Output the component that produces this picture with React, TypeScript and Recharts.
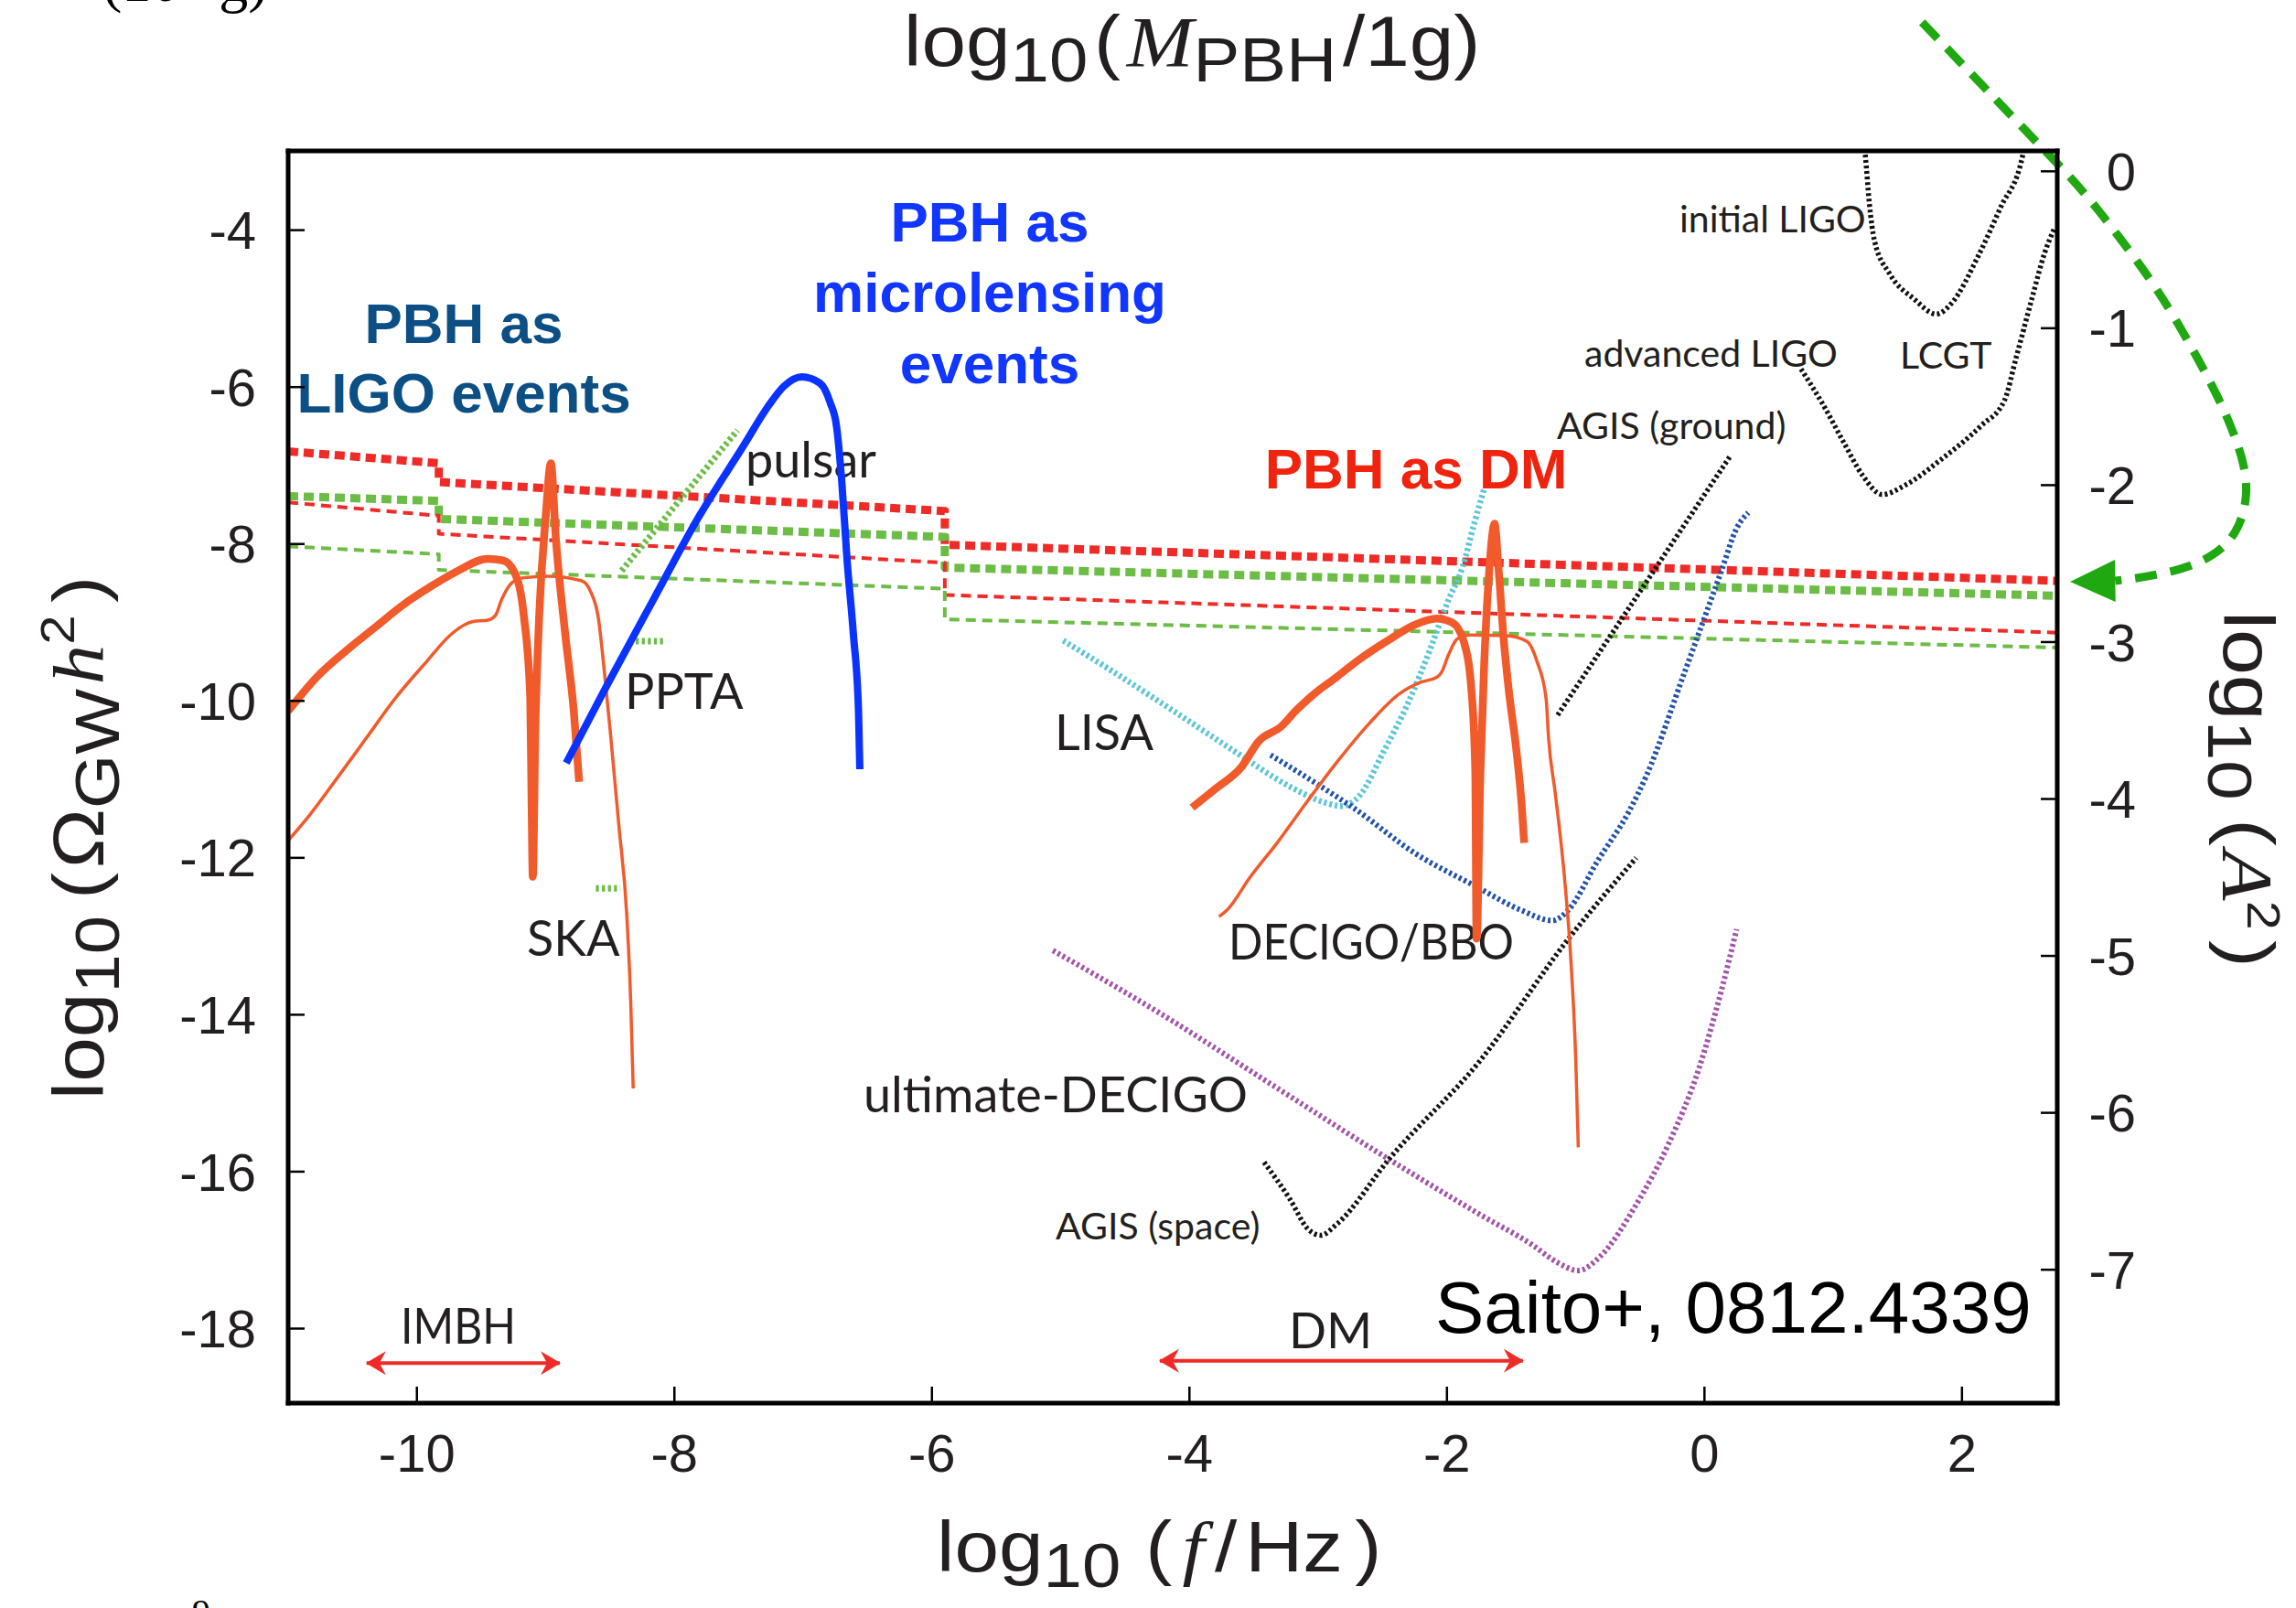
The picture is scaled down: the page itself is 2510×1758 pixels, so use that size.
import React from 'react';
import { LineChart, Line, XAxis, YAxis, Customized } from 'recharts';

const W = 2510;
const H = 1758;
const PLOT = { left: 315, top: 165, right: 2249, bottom: 1534 };

// axis ranges: log10(f/Hz), log10(Omega h^2), log10(M/1g), log10(A^2)
const F_DOMAIN: [number, number] = [-11, 2.74];
const OMEGA_DOMAIN: [number, number] = [-18.95, -2.99];
const MASS_DOMAIN: [number, number] = [11.28, 39.37];
const AMP_DOMAIN: [number, number] = [-7.85, 0.13];

const fTicks = [-10, -8, -6, -4, -2, 0, 2];
const omegaTicks = [-18, -16, -14, -12, -10, -8, -6, -4];
const massTicks = [15, 20, 25, 30, 35];
const ampTicks = [0, -1, -2, -3, -4, -5, -6, -7];

// upper limits (step lines)
const redThickDash = [[-11, -6.82], [-9.83, -6.97], [-9.83, -7.21], [-5.9, -7.58], [-5.9, -8.01], [2.74, -8.47]];
const greenThickDash = [[-11, -7.39], [-9.83, -7.45], [-9.83, -7.68], [-5.9, -7.91], [-5.9, -8.3], [2.74, -8.66]];
const redThinDash = [[-11, -7.47], [-9.83, -7.64], [-9.83, -7.87], [-5.9, -8.24], [-5.9, -8.65], [2.74, -9.13]];
const greenThinDash = [[-11, -8.03], [-9.83, -8.13], [-9.83, -8.33], [-5.9, -8.57], [-5.9, -8.96], [2.74, -9.32]];

// induced GW spectra
const imbhThick = [
  [-11, -10.13], [-10.78, -9.7], [-10.52, -9.32], [-10.33, -9.07], [-10.11, -8.78], [-9.88, -8.53],
  [-9.69, -8.35], [-9.45, -8.19], [-9.33, -8.21], [-9.24, -8.37], [-9.17, -8.91], [-9.12, -9.95],
  [-9.11, -11.2], [-9.1, -12.24], [-9.08, -10.36], [-9.05, -8.91], [-9.0, -7.66], [-8.96, -6.97],
  [-8.92, -7.95], [-8.85, -9.12], [-8.78, -10.16], [-8.74, -11.03],
];
const imbhThin = [
  [-11, -11.78], [-10.85, -11.49], [-10.64, -11.03], [-10.4, -10.49], [-10.16, -9.95], [-9.92, -9.49],
  [-9.74, -9.16], [-9.57, -8.99], [-9.45, -8.97], [-9.39, -8.91], [-9.34, -8.7], [-9.26, -8.49],
  [-9.17, -8.43], [-8.98, -8.41], [-8.72, -8.47], [-8.65, -8.61], [-8.59, -8.95], [-8.55, -9.53],
  [-8.5, -10.36], [-8.43, -11.61], [-8.37, -12.73], [-8.34, -13.8], [-8.32, -14.94],
];
const dmThick = [
  [-3.98, -11.36], [-3.79, -11.11], [-3.6, -10.85], [-3.46, -10.51], [-3.29, -10.33], [-3.17, -10.12],
  [-3.03, -9.91], [-2.86, -9.7], [-2.68, -9.47], [-2.44, -9.21], [-2.25, -9.03], [-2.08, -8.95],
  [-1.96, -9.0], [-1.87, -9.24], [-1.81, -9.86], [-1.78, -10.9], [-1.77, -13.03], [-1.74, -10.9],
  [-1.71, -9.5], [-1.67, -8.3], [-1.63, -7.74], [-1.6, -8.3], [-1.56, -9.2], [-1.52, -9.86],
  [-1.46, -10.64], [-1.42, -11.32], [-1.4, -11.81],
];
const dmThin = [
  [-3.77, -12.75], [-3.71, -12.67], [-3.53, -12.25], [-3.31, -11.79], [-3.08, -11.27], [-2.84, -10.75],
  [-2.6, -10.28], [-2.37, -9.91], [-2.2, -9.76], [-2.08, -9.7], [-2.04, -9.63], [-1.99, -9.42],
  [-1.92, -9.21], [-1.82, -9.16], [-1.54, -9.17], [-1.38, -9.24], [-1.3, -9.5], [-1.23, -9.97],
  [-1.21, -10.49], [-1.16, -11.16], [-1.09, -12.2], [-1.04, -13.24], [-1.0, -14.55], [-0.98, -15.69],
];
const microlensing = [
  [-8.84, -10.79], [-8.53, -9.82], [-8.17, -8.73], [-7.82, -7.68], [-7.46, -6.74], [-7.27, -6.24],
  [-7.15, -5.99], [-7.01, -5.87], [-6.87, -5.95], [-6.79, -6.2], [-6.74, -6.51], [-6.7, -7.21],
  [-6.66, -8.18], [-6.61, -9.15], [-6.57, -10.13], [-6.56, -10.87],
];

// detector sensitivities
const pulsar = [[-8.41, -8.34], [-7.51, -6.55]];
const ppta = [[-8.3, -9.24], [-8.08, -9.24]];
const ska = [[-8.61, -12.39], [-8.42, -12.39]];
const lisa = [
  [-4.98, -9.23], [-4.6, -9.62], [-4.15, -10.1], [-3.67, -10.62], [-3.2, -11.11], [-2.96, -11.29],
  [-2.82, -11.34], [-2.68, -11.21], [-2.49, -10.64], [-2.3, -10.02], [-2.13, -9.34], [-1.99, -8.72],
  [-1.88, -8.3], [-1.79, -7.75], [-1.71, -7.29],
];
const decigo = [
  [-3.37, -10.69], [-2.96, -11.11], [-2.72, -11.37], [-2.25, -11.94], [-1.78, -12.36], [-1.42, -12.67],
  [-1.18, -12.8], [-1.06, -12.67], [-0.83, -12.04], [-0.59, -11.42], [-0.45, -10.95], [-0.16, -9.66],
  [0.13, -8.35], [0.25, -7.8], [0.34, -7.6],
];
const ultimateDecigo = [
  [-5.06, -13.18], [-4.2, -14.01], [-3.38, -14.87], [-2.57, -15.72], [-1.75, -16.54], [-1.34, -16.93],
  [-1.14, -17.16], [-0.98, -17.26], [-0.81, -17.08], [-0.53, -16.42], [-0.28, -15.65], [-0.04, -14.67],
  [0.13, -13.7], [0.25, -12.91],
];
const agisSpace = [
  [-3.42, -15.88], [-3.22, -16.35], [-3.08, -16.73], [-2.98, -16.81], [-2.85, -16.66], [-2.45, -15.84],
  [-1.75, -14.6], [-1.06, -13.04], [-0.53, -12.0],
];
const agisGround = [[-1.14, -10.18], [0.2, -6.88]];
const initialLigo = [
  [1.24, -2.9], [1.25, -3.06], [1.28, -3.65], [1.32, -4.13], [1.44, -4.56], [1.63, -4.88], [1.8, -5.07],
  [1.93, -4.91], [2.12, -4.35], [2.3, -3.71], [2.47, -3.06], [2.49, -2.9],
];
const advancedLigo = [
  [0.75, -5.77], [0.92, -6.22], [1.08, -6.7], [1.23, -7.13], [1.38, -7.37], [1.57, -7.24], [1.84, -6.92],
  [2.15, -6.49], [2.33, -6.17], [2.42, -5.63], [2.55, -4.83], [2.64, -4.3], [2.72, -3.97],
];

// mass ranges
const imbhRange = [[-10.39, -18.44], [-8.89, -18.44]];
const dmRange = [[-4.23, -18.41], [-1.41, -18.41]];

// curved pointer from the top mass axis to the right amplitude axis
const pointerPath = [
  [1.69, -1.35], [2.61, -2.93], [2.91, -3.44], [3.22, -4.08], [3.53, -4.78], [3.83, -5.62], [4.08, -6.43],
  [4.22, -7.13], [4.19, -7.66], [4.05, -8.04], [3.8, -8.28], [3.47, -8.41], [3.19, -8.47],
];
const pointerTip = [2.84, -8.48];

const RED = '#ee2b27';
const GREEN = '#6cbd45';
const ORANGE = '#f15a2b';
const INK = '#231f20';

const toRows = (arr: number[][]) => arr.map(([x, y]) => ({ x, y }));

type Style = { stroke: string; width: number; dash?: string; curve?: 'linear' | 'monotone'; marker?: boolean };
const series: [string, number[][], Style][] = [
  ['redThickDash', redThickDash, { stroke: RED, width: 9, dash: '11 6' }],
  ['greenThickDash', greenThickDash, { stroke: GREEN, width: 9, dash: '11 6' }],
  ['redThinDash', redThinDash, { stroke: RED, width: 4, dash: '11 7' }],
  ['greenThinDash', greenThinDash, { stroke: GREEN, width: 4, dash: '11 7' }],
  ['pulsar', pulsar, { stroke: GREEN, width: 7, dash: '3.3 3.3' }],
  ['ppta', ppta, { stroke: GREEN, width: 7, dash: '3.3 3.3' }],
  ['ska', ska, { stroke: GREEN, width: 7, dash: '3.3 3.3' }],
  ['lisa', lisa, { stroke: '#5cc6d7', width: 6.5, dash: '3 3', curve: 'monotone' }],
  ['decigo', decigo, { stroke: '#2353a8', width: 6, dash: '3 3', curve: 'monotone' }],
  ['ultimateDecigo', ultimateDecigo, { stroke: '#a453aa', width: 6, dash: '3 3', curve: 'monotone' }],
  ['agisSpace', agisSpace, { stroke: '#111', width: 5.5, dash: '3 3', curve: 'monotone' }],
  ['agisGround', agisGround, { stroke: '#111', width: 5.5, dash: '3 3' }],
  ['initialLigo', initialLigo, { stroke: '#111', width: 5.5, dash: '3 3', curve: 'monotone' }],
  ['advancedLigo', advancedLigo, { stroke: '#111', width: 5.5, dash: '3 3', curve: 'monotone' }],
  ['imbhThin', imbhThin, { stroke: ORANGE, width: 3.5, curve: 'monotone' }],
  ['dmThin', dmThin, { stroke: ORANGE, width: 3.5, curve: 'monotone' }],
  ['imbhThick', imbhThick, { stroke: ORANGE, width: 8.5, curve: 'monotone' }],
  ['dmThick', dmThick, { stroke: ORANGE, width: 8.5, curve: 'monotone' }],
  ['microlensing', microlensing, { stroke: '#0a33ff', width: 8, curve: 'monotone' }],
  ['imbhRange', imbhRange, { stroke: RED, width: 4, marker: true }],
  ['dmRange', dmRange, { stroke: RED, width: 4, marker: true }],
];

// text, x, baseline, size, optional fitted width
const plainLabels: [string, number, number, number, number?][] = [
  ['pulsar', 815, 522, 54],
  ['PPTA', 683, 775, 54],
  ['SKA', 576, 1045, 54],
  ['LISA', 1153, 820, 54],
  ['DECIGO/BBO', 1343, 1049, 54, 312],
  ['ultimate-DECIGO', 944, 1216, 54],
  ['AGIS (space)', 1154, 1355, 41],
  ['AGIS (ground)', 1702, 480, 41],
  ['advanced LIGO', 1732, 401, 41],
  ['LCGT', 2077, 403, 41],
  ['initial LIGO', 1836, 254, 41],
  ['IMBH', 438, 1469, 54, 126],
  ['DM', 1409, 1474, 54],
];
const boldLabels: [string, number, number, string][] = [
  ['PBH as', 507, 375, '#0b4f85'],
  ['LIGO events', 507, 451, '#0b4f85'],
  ['PBH as', 1082, 264, '#1036ff'],
  ['microlensing', 1082, 341, '#1036ff'],
  ['events', 1082, 419, '#1036ff'],
  ['PBH as DM', 1548, 534, '#f0230f'],
];

const SANS = '"Liberation Sans", Arial, sans-serif';
const SERIF = '"Liberation Serif", "Times New Roman", serif';
const LABEL = 'Lato, "Open Sans", sans-serif';

const toPx = ([x, y]: number[]) => [
  PLOT.left + ((x - F_DOMAIN[0]) / (F_DOMAIN[1] - F_DOMAIN[0])) * (PLOT.right - PLOT.left),
  PLOT.top + ((OMEGA_DOMAIN[1] - y) / (OMEGA_DOMAIN[1] - OMEGA_DOMAIN[0])) * (PLOT.bottom - PLOT.top),
];

const smoothPath = (p: number[][]) => {
  let d = `M${p[0][0]},${p[0][1]}`;
  for (let i = 1; i < p.length - 1; i++) {
    const mx = (p[i][0] + p[i + 1][0]) / 2;
    const my = (p[i][1] + p[i + 1][1]) / 2;
    d += ` Q${p[i][0]},${p[i][1]} ${mx},${my}`;
  }
  const last = p[p.length - 1];
  return `${d} L${last[0]},${last[1]}`;
};

const Overlay = () => {
  const pts = pointerPath.map(toPx);
  const tip = toPx(pointerTip);
  const base = pts[pts.length - 1];
  const len = Math.hypot(tip[0] - base[0], tip[1] - base[1]);
  const nx = (-(tip[1] - base[1]) / len) * 23;
  const ny = ((tip[0] - base[0]) / len) * 23;
  const sub = 17;
  const subSize = 68;
  return (
    <g>
      <defs>
        <marker id="rangeHead" viewBox="0 0 22 26" refX={21} refY={13} markerWidth={22} markerHeight={26}
          markerUnits="userSpaceOnUse" orient="auto-start-reverse">
          <path d="M0,0 L22,13 L0,26 L7,13 Z" fill={RED} />
        </marker>
      </defs>

      <path d={smoothPath(pts)} fill="none" stroke="#1fa80f" strokeWidth={9} strokeDasharray="24 15" />
      <polygon points={`${tip[0]},${tip[1]} ${base[0] + nx},${base[1] + ny} ${base[0] - nx},${base[1] - ny}`} fill="#1fa80f" />

      {plainLabels.map(([t, x, y, s, w], i) => (
        <text key={`p${i}`} x={x} y={y} fontSize={s} fontFamily={LABEL} fill={INK}
          textLength={w} lengthAdjust={w ? 'spacingAndGlyphs' : undefined}>{t}</text>
      ))}
      {boldLabels.map(([t, x, y, c], i) => (
        <text key={`b${i}`} x={x} y={y} fontSize={62} fontWeight="bold" fontFamily={SANS} fill={c} textAnchor="middle">{t}</text>
      ))}
      <text x={1569} y={1457} fontSize={80} fontFamily={SANS} fill="#000">Saito+, 0812.4339</text>

      {/* axis titles */}
      <text transform="translate(1024,1718) scale(1.12,1)" fontSize={78} fontFamily={SANS} fill={INK}>
        log<tspan fontSize={subSize} dy={sub}>10</tspan>
        <tspan dy={-sub} dx={24}>(</tspan>
        <tspan dx={10} fontStyle="italic" fontFamily={SERIF}>f</tspan>
        <tspan dx={10}>/</tspan>
        <tspan dx={8}>Hz</tspan>
        <tspan dx={12}>)</tspan>
      </text>
      <text transform="translate(988,72) scale(1.12,1)" fontSize={78} fontFamily={SANS} fill={INK}>
        log<tspan fontSize={subSize} dy={sub}>10</tspan>
        <tspan dy={-sub} dx={6}>(</tspan>
        <tspan dx={6} fontStyle="italic" fontFamily={SERIF}>M</tspan>
        <tspan fontSize={subSize} dy={sub}>PBH</tspan>
        <tspan dy={-sub} dx={6}>/1g)</tspan>
      </text>
      <text transform="translate(113,916) rotate(-90) scale(1.12,1)" textAnchor="middle" fontSize={78} fontFamily={SANS} fill={INK}>
        log<tspan fontSize={subSize} dy={sub}>10</tspan>
        <tspan dy={-sub} dx={16}>(</tspan>
        <tspan dx={4}>Ω</tspan>
        <tspan fontSize={subSize} dy={sub}>GW</tspan>
        <tspan dy={-sub} dx={4} fontStyle="italic" fontFamily={SERIF}>h</tspan>
        <tspan fontSize={52} dy={-32}>2</tspan>
        <tspan dy={32} dx={12}>)</tspan>
      </text>
      <text transform="translate(2431,863) rotate(90) scale(1.15,1)" textAnchor="middle" fontSize={78} fontFamily={SANS} fill={INK}>
        log<tspan fontSize={subSize} dy={sub}>10</tspan>
        <tspan dy={-sub} dx={18}>(</tspan>
        <tspan dx={4} fontStyle="italic" fontFamily={SERIF}>A</tspan>
        <tspan fontSize={50} dy={-26}>2</tspan>
        <tspan dy={26} dx={10}>)</tspan>
      </text>

      {/* page fragments around the figure */}
      <text x={112} y={1} fontSize={64} fontFamily={SERIF} fill="#000">
        (10<tspan fontSize={40} dy={-28}>9</tspan>
        <tspan dy={28} dx={22}>g)</tspan>
      </text>
      <text x={210} y={1776} fontSize={40} fontFamily={SERIF} fill="#000">9</text>
    </g>
  );
};

const axisLine = { stroke: '#000', strokeWidth: 5, strokeLinecap: 'square' as const };
const tickLine = { stroke: '#000', strokeWidth: 2.5 };
const tickText = { fontSize: 58, fill: INK, fontFamily: SANS };

export default function App() {
  return (
    <div style={{ position: 'absolute', left: 0, top: 0, width: W, height: H, background: '#fff', fontFamily: SANS }}>
      <LineChart width={W} height={H} margin={{ top: 85, right: 141, bottom: 144, left: 195 }}>
        <XAxis xAxisId="f" dataKey="x" type="number" orientation="bottom" domain={F_DOMAIN} allowDataOverflow
          ticks={fTicks} interval={0} height={80} axisLine={axisLine} tickLine={tickLine} tickSize={-18}
          tickMargin={52} tick={tickText} />
        <XAxis xAxisId="m" type="number" orientation="top" domain={MASS_DOMAIN} reversed allowDataOverflow
          ticks={massTicks} interval={0} height={80} axisLine={axisLine} tickLine={tickLine} tickSize={-18}
          tickMargin={39} tick={tickText} />
        <YAxis yAxisId="omega" dataKey="y" type="number" orientation="left" domain={OMEGA_DOMAIN} allowDataOverflow
          ticks={omegaTicks} interval={0} width={120} axisLine={axisLine} tickLine={tickLine} tickSize={-18}
          tickMargin={53} tick={tickText} />
        <YAxis yAxisId="amp" type="number" orientation="right" domain={AMP_DOMAIN} allowDataOverflow
          ticks={ampTicks} interval={0} width={120} axisLine={axisLine} tickLine={tickLine} tickSize={-18}
          tickMargin={104} tick={{ ...tickText, textAnchor: 'end' }} />
        {series.map(([name, data, s]) => (
          <Line key={name} xAxisId="f" yAxisId="omega" data={toRows(data)} dataKey="y" type={s.curve ?? 'linear'}
            stroke={s.stroke} strokeWidth={s.width} strokeDasharray={s.dash} strokeLinejoin="round"
            markerStart={s.marker ? 'url(#rangeHead)' : undefined} markerEnd={s.marker ? 'url(#rangeHead)' : undefined}
            dot={false} activeDot={false} isAnimationActive={false} />
        ))}
        <Customized component={Overlay} />
      </LineChart>
    </div>
  );
}
